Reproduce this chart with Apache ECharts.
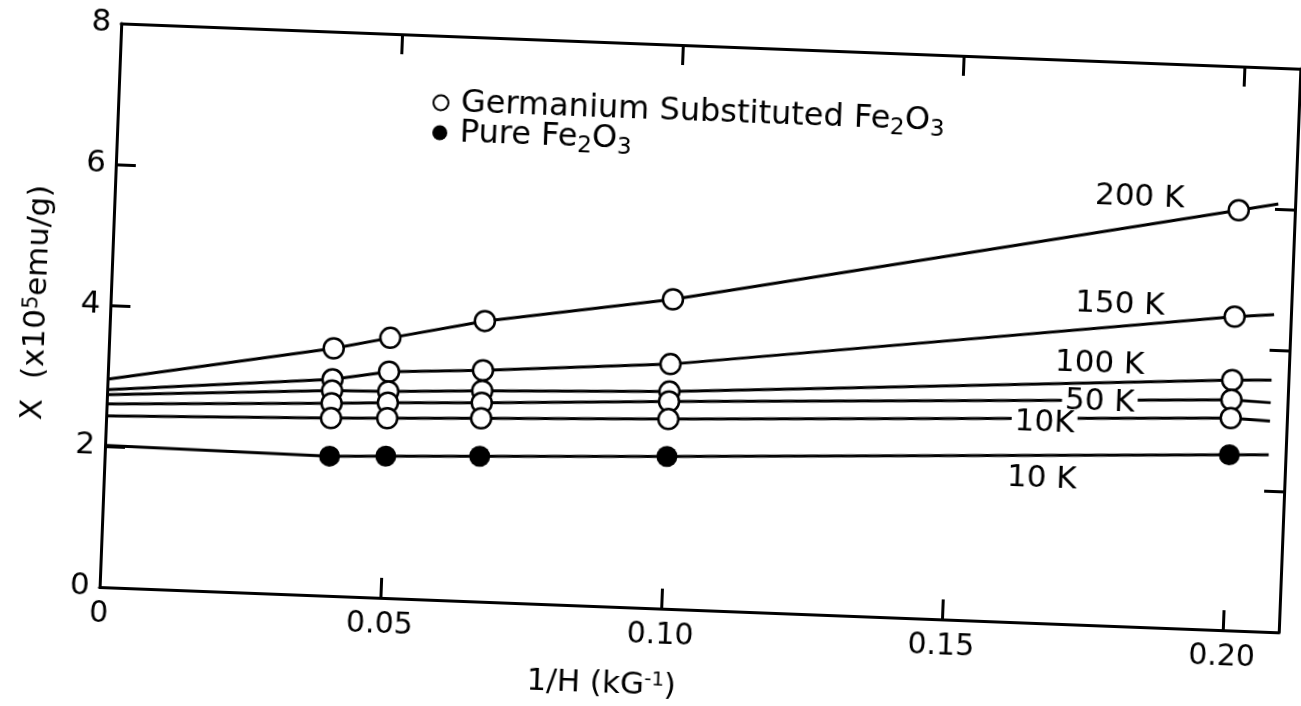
<!DOCTYPE html>
<html>
<head>
<meta charset="utf-8">
<script src="https://cdn.jsdelivr.net/npm/echarts@6/dist/echarts.min.js"></script>
<style>
    html, body { margin: 0; padding: 0; background: #fff; overflow: hidden; }
    /* the scanned figure is tilted by about 2 degrees */
    #chart { width: 1301px; height: 706px; transform: rotate(2.2deg); transform-origin: 50% 50%; }
</style>
</head>
<body>
<div id="chart"></div>
<script>
// 1/H values (kG^-1) of the measured points
var fieldInv = [0.04, 0.05, 0.0667, 0.10, 0.20];
// Germanium substituted Fe2O3
var ge200K = [3.51, 3.69, 3.98, 4.39, 5.96];
var ge150K = [3.07, 3.21, 3.28, 3.47, 4.45];
var ge100K = [2.91, 2.93, 2.99, 3.08, 3.55];
var ge50K = [2.73, 2.77, 2.82, 2.94, 3.27];
var ge10K = [2.52, 2.55, 2.60, 2.69, 3.01];
// pure Fe2O3
var pure10K = [1.98, 2.01, 2.06, 2.16, 2.49];
// where the drawn lines start and end
var fitX = [0, 0.207];
var fit200K = [2.95, 6.07];
var fit150K = [2.80, 4.50];
var fit100K = [2.73, 3.57];
var fit50K = [2.60, 3.25];
var fit10K = [2.43, 2.99];
var fitPure = [2.01, 2.51];
var xTicks = ['0', '0.05', '0.10', '0.15', '0.20'];
var yTicks = ['0', '2', '4', '6', '8'];

var FONT = 'DejaVu Sans';
var GE_NAME = 'Germanium Substituted Fe2O3';
var PURE_NAME = 'Pure Fe2O3';

function lineData(fit, ys) {
    var d = [[fitX[0], fit[0]]];
    fieldInv.forEach(function (x, i) { d.push([x, ys[i]]); });
    d.push([fitX[1], fit[1]]);
    return d;
}

function points(list) {
    var d = [];
    list.forEach(function (ys) {
        fieldInv.forEach(function (x, i) { d.push([x, ys[i]]); });
    });
    return d;
}

function curve(fit, ys, label, coord, cover) {
    return {
        type: 'line',
        data: lineData(fit, ys),
        showSymbol: false,
        silent: true,
        lineStyle: { color: '#000', width: 3 },
        markPoint: {
            symbol: 'circle',
            symbolSize: 0,
            silent: true,
            label: {
                show: true,
                position: 'inside',
                formatter: label,
                color: '#000',
                fontFamily: FONT,
                fontSize: 31,
                lineHeight: 24,
                backgroundColor: cover ? '#fff' : 'transparent',
                padding: cover ? [0, 3] : 0
            },
            data: [{ coord: coord }]
        }
    };
}

var myChart = echarts.init(document.getElementById('chart'));

var axisLine = { show: true, onZero: false, lineStyle: { color: '#000', width: 3 } };
var axisTick = { show: true, inside: true, length: 20, lineStyle: { color: '#000', width: 3 } };

var option = {
    animation: false,
    backgroundColor: '#fff',
    grid: { left: 109, top: 44, width: 1180, height: 566 },
    legend: {
        orient: 'vertical',
        left: 418,
        top: 86,
        itemWidth: 30,
        itemHeight: 15,
        itemGap: -10,
        selectedMode: false,
        data: [GE_NAME, PURE_NAME],
        formatter: function (name) {
            return name.replace('Fe2O3', 'Fe{sub|2}O{sub|3}');
        },
        textStyle: {
            color: '#000',
            fontFamily: FONT,
            fontSize: 32,
            lineHeight: 40,
            rich: {
                sub: { fontFamily: FONT, fontSize: 23, color: '#000', verticalAlign: 'bottom', lineHeight: 40 }
            }
        }
    },
    xAxis: [
        {
            type: 'value',
            min: 0,
            max: 0.21,
            interval: 0.05,
            position: 'bottom',
            axisLine: axisLine,
            axisTick: axisTick,
            splitLine: { show: false },
            axisLabel: {
                color: '#000',
                fontFamily: FONT,
                fontSize: 30,
                margin: 12,
                showMaxLabel: false,
                formatter: function (v) {
                    var k = Math.round(v / 0.05);
                    return Math.abs(v - k * 0.05) < 1e-6 ? xTicks[k] : '';
                }
            },
            name: '1/H (kG{sup|-1})',
            nameLocation: 'middle',
            nameGap: 62,
            nameTextStyle: {
                color: '#000',
                fontFamily: FONT,
                fontSize: 31,
                padding: [0, 170, 0, 0],
                rich: { sup: { fontFamily: FONT, fontSize: 20, color: '#000', verticalAlign: 'top' } }
            }
        },
        {
            type: 'value',
            min: 0,
            max: 0.21,
            interval: 0.05,
            position: 'top',
            axisLine: axisLine,
            axisTick: axisTick,
            axisLabel: { show: false },
            splitLine: { show: false }
        }
    ],
    yAxis: [
        {
            type: 'value',
            min: 0,
            max: 8,
            interval: 2,
            position: 'left',
            axisLine: axisLine,
            axisTick: axisTick,
            splitLine: { show: false },
            axisLabel: {
                color: '#000',
                fontFamily: FONT,
                fontSize: 31,
                margin: 10,
                formatter: function (v) { return yTicks[Math.round(v / 2)]; }
            },
            name: 'X  (x10{sup|5}emu/g)',
            nameLocation: 'middle',
            nameGap: 58,
            nameTextStyle: {
                color: '#000',
                fontFamily: FONT,
                fontSize: 31,
                rich: { sup: { fontFamily: FONT, fontSize: 21, color: '#000', verticalAlign: 'top' } }
            }
        },
        {
            type: 'value',
            min: 0,
            max: 8,
            interval: 2,
            position: 'right',
            axisLine: axisLine,
            axisTick: axisTick,
            axisLabel: { show: false },
            splitLine: { show: false }
        }
    ],
    series: [
        curve(fit200K, ge200K, '200 K', [0.1823, 6.09], false),
        curve(fit150K, ge150K, '150 K', [0.1795, 4.55], false),
        curve(fit100K, ge100K, '100 K', [0.1763, 3.70], false),
        curve(fit50K, ge50K, '50 K', [0.1766, 3.17], true),
        curve(fit10K, ge10K, '10K', [0.1669, 2.84], true),
        curve(fitPure, pure10K, '10 K', [0.1668, 2.04], false),
        {
            name: GE_NAME,
            type: 'scatter',
            z: 4,
            symbol: 'circle',
            symbolSize: 20,
            itemStyle: { color: '#fff', borderColor: '#000', borderWidth: 2.5, opacity: 1 },
            data: points([ge200K, ge150K, ge100K, ge50K, ge10K])
        },
        {
            name: PURE_NAME,
            type: 'scatter',
            z: 4,
            symbol: 'circle',
            symbolSize: 21,
            itemStyle: { color: '#000', opacity: 1 },
            data: points([pure10K])
        }
    ]
};
myChart.setOption(option);
window.addEventListener('resize', function () {
    myChart.resize();
});
</script>
</body>
</html>
